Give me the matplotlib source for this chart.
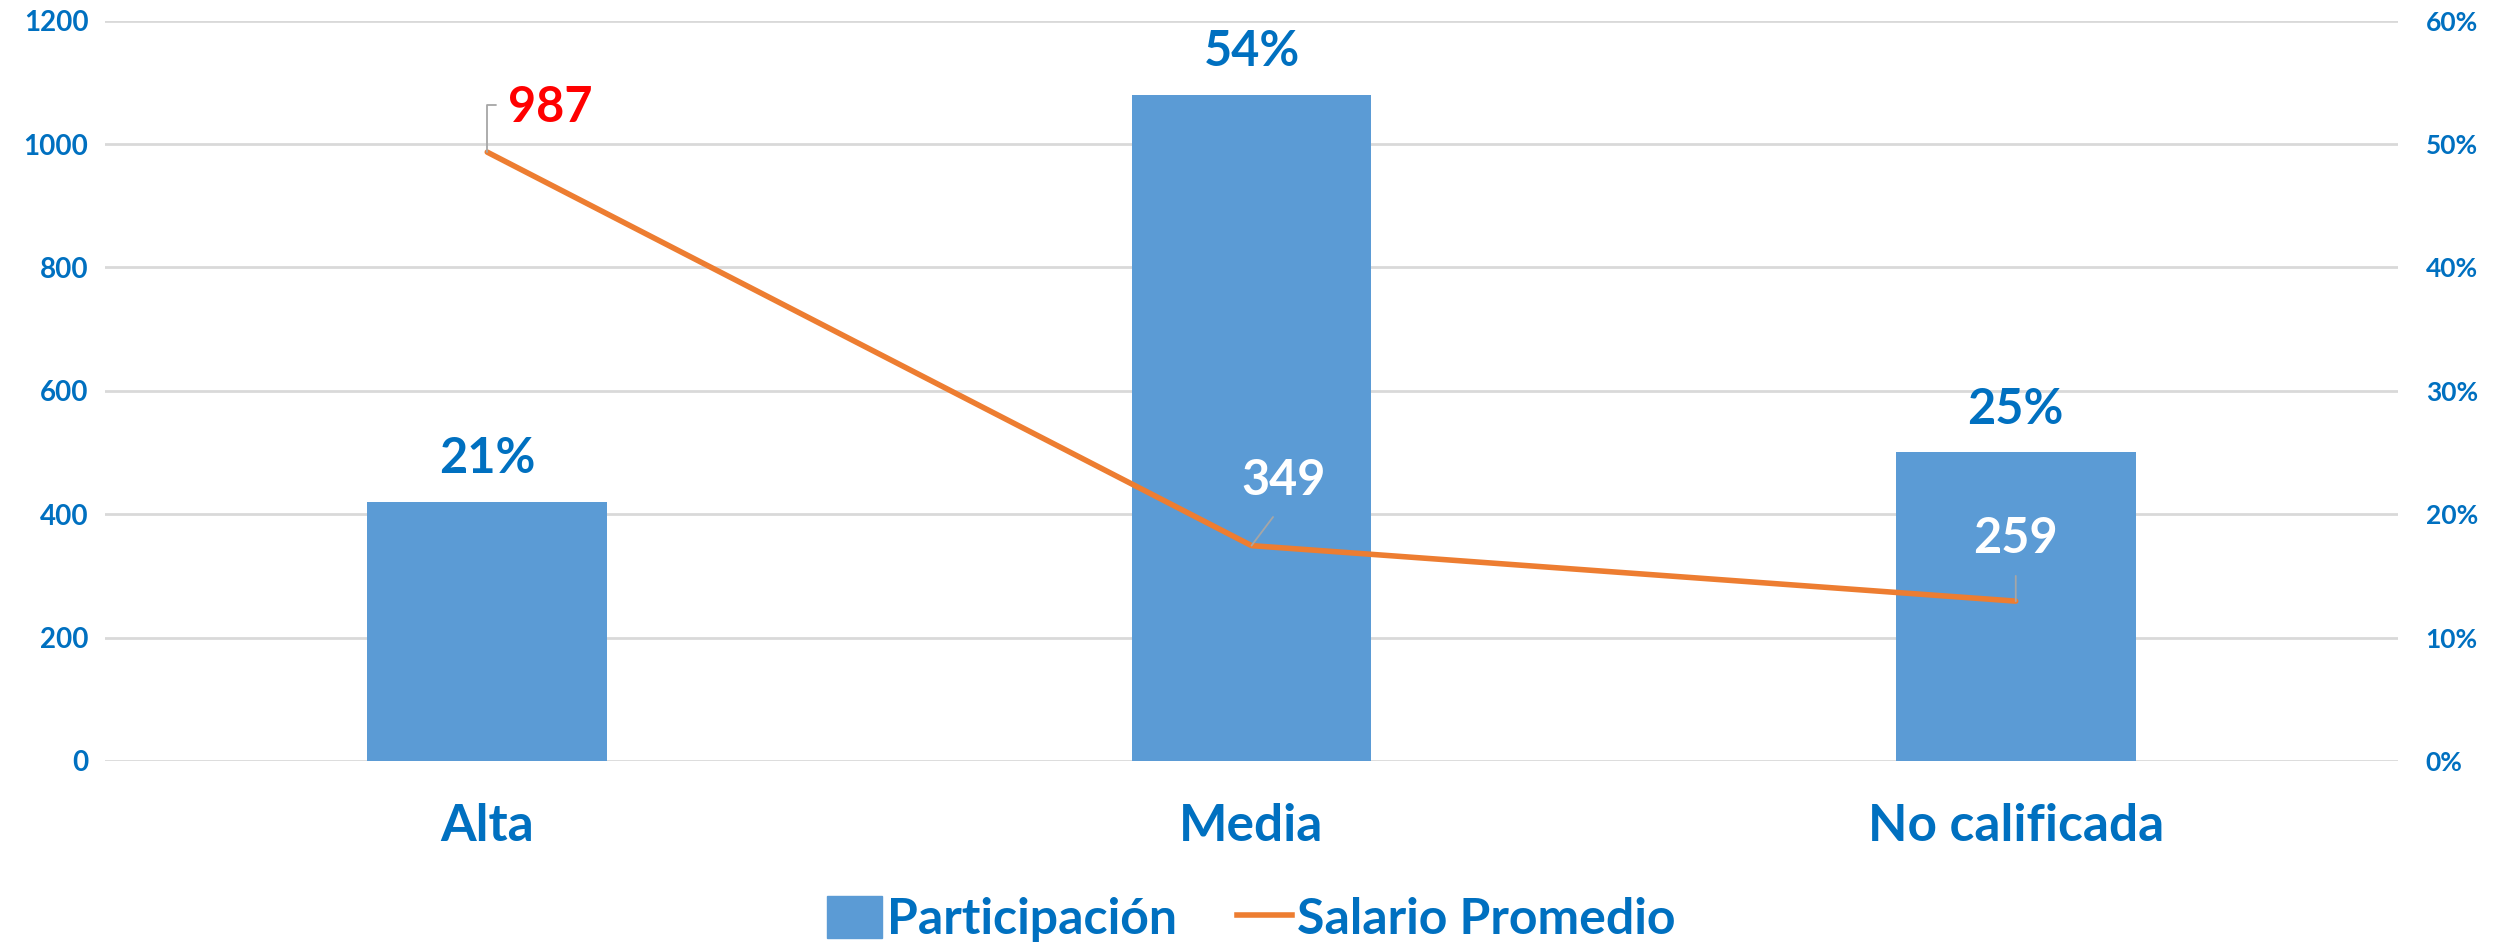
import matplotlib.pyplot as plt
from matplotlib.lines import Line2D
from matplotlib.patches import Patch

# datos
categorias = ['Alta', 'Media', 'No calificada']
participacion = [0.21, 0.54, 0.25]
salario = [987, 349, 259]
ticks_izq = [0, 200, 400, 600, 800, 1000, 1200]
ticks_der = [0, 0.1, 0.2, 0.3, 0.4, 0.5, 0.6]
etiquetas_der = ['0%', '10%', '20%', '30%', '40%', '50%', '60%']

azul_texto = '#0070C0'
azul_barra = '#5B9BD5'
naranja = '#ED7D31'

plt.rcParams['font.family'] = ['Lato', 'DejaVu Sans']
plt.rcParams['font.weight'] = 'bold'

fig = plt.figure(figsize=(25.03, 9.44), dpi=100)
ax = fig.add_axes([0.042, 0.194, 0.916, 0.784])
ax2 = ax.twinx()

x = list(range(len(categorias)))

# barras (eje derecho)
ax2.bar(x, participacion, width=0.314, color=azul_barra, zorder=2)
ax2.set_ylim(0, 0.6)
ax2.set_yticks(ticks_der)
ax2.set_yticklabels(etiquetas_der)
ax2.grid(axis='y', color='#D9D9D9', linewidth=2)
ax2.set_axisbelow(True)
for xi, p in zip(x, participacion):
    ax2.annotate(f'{round(p * 100)}%', (xi, p), xytext=(0, 43), textcoords='offset pixels',
                 ha='center', va='center', fontsize=35, color=azul_texto, fontweight='bold')

# linea (eje izquierdo)
ax.set_zorder(ax2.get_zorder() + 1)
ax.patch.set_visible(False)
ax.plot(x, salario, color=naranja, linewidth=4, solid_capstyle='round')
ax.set_ylim(0, 1200)
ax.set_yticks(ticks_izq)
ax.set_xlim(-0.5, 2.5)
ax.set_xticks(x)
ax.set_xticklabels(categorias)

offsets = [(63, 45), (32, 65), (0, 63)]
colores = ['red', 'white', 'white']
conexiones = ['angle,angleA=0,angleB=90,rad=0', 'arc3', 'arc3']
relpos = [(0, 0.55), (0.5, 0), (0.5, 0)]
shrink = [7, 10, 9]
for i, s in enumerate(salario):
    ax.annotate(str(s), (x[i], s), xytext=offsets[i], textcoords='offset pixels',
                ha='center', va='center', fontsize=35, color=colores[i], fontweight='bold',
                arrowprops=dict(arrowstyle='-', color='#A6A6A6', lw=1.3, relpos=relpos[i],
                                connectionstyle=conexiones[i], shrinkA=shrink[i], shrinkB=0))

for a in (ax, ax2):
    for sp in a.spines.values():
        sp.set_visible(False)
    a.tick_params(length=0)
ax.tick_params(axis='y', labelsize=20, labelcolor=azul_texto, pad=12)
ax2.tick_params(axis='y', labelsize=19, labelcolor=azul_texto, pad=20)
ax.tick_params(axis='x', labelsize=37, labelcolor=azul_texto, pad=30)

handles = [Patch(color=azul_barra), Line2D([], [], color=naranja, linewidth=4)]
fig.legend(handles, ['Participación', 'Salario Promedio'], loc='center',
           bbox_to_anchor=(0.5, 0.026), ncol=2, frameon=False, fontsize=36,
           labelcolor=azul_texto, handlelength=1.1, handleheight=0.9,
           handletextpad=0.1, columnspacing=1.2)

fig.savefig('out.png', dpi=100)
